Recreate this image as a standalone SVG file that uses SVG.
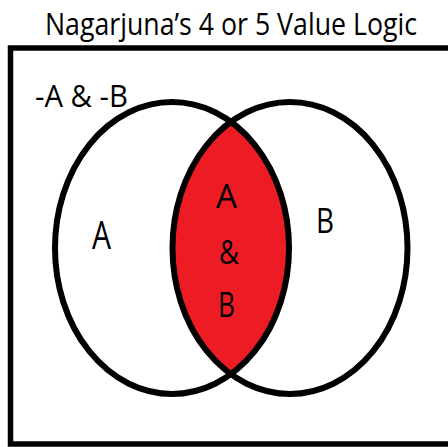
<svg xmlns="http://www.w3.org/2000/svg" width="448" height="447" viewBox="0 0 448 447">
<style>
.t{font-family:"Open Sans","Liberation Sans",sans-serif;fill:#000}
.o{fill:none;stroke:#000;stroke-width:6}
</style>
<defs>
<clipPath id="clipA"><ellipse cx="172" cy="248" rx="117" ry="146"/></clipPath>
</defs>
<rect width="448" height="447" fill="#fff"/>
<text class="t" transform="translate(231,35) scale(1,1.12)" x="0" y="0" font-size="28" text-anchor="middle" textLength="372" lengthAdjust="spacingAndGlyphs">Nagarjuna’s 4 or 5 Value Logic</text>
<rect id="frame" x="10.5" y="48" width="460" height="396" fill="none" stroke="#000" stroke-width="5.5"/>
<g id="intersection">
<ellipse cx="290" cy="248" rx="117.5" ry="146" fill="#ED1C24" clip-path="url(#clipA)"/>
</g>
<g id="setA">
<ellipse class="o" cx="172" cy="248" rx="117" ry="146"/>
</g>
<g id="setB">
<ellipse class="o" cx="290" cy="248" rx="117.5" ry="146"/>
</g>
<g id="labels">
<text class="t" x="35" y="107" font-size="31" textLength="93" lengthAdjust="spacingAndGlyphs">-A &amp; -B</text>
<text class="t" x="92" y="249" font-size="38" textLength="19" lengthAdjust="spacingAndGlyphs">A</text>
<text class="t" x="316" y="233" font-size="35" textLength="18" lengthAdjust="spacingAndGlyphs">B</text>
<text class="t" x="216" y="208" font-size="33" textLength="21" lengthAdjust="spacingAndGlyphs">A</text>
<text class="t" x="219" y="264" font-size="32" textLength="20" lengthAdjust="spacingAndGlyphs">&amp;</text>
<text class="t" x="218" y="317" font-size="35" textLength="17" lengthAdjust="spacingAndGlyphs">B</text>
</g>
<g id="connectors"/>
</svg>
